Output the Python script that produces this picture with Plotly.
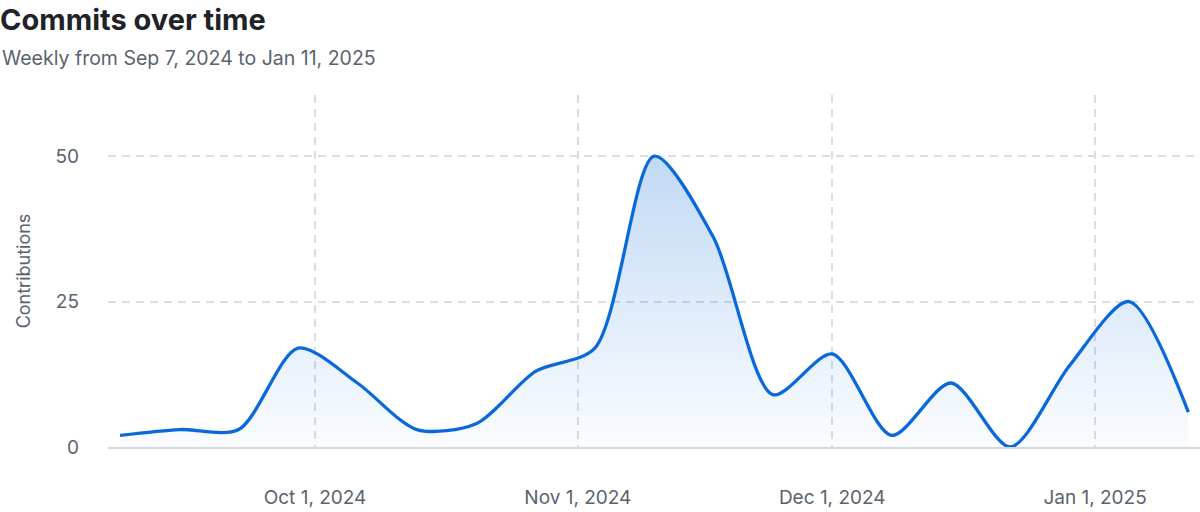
import plotly.graph_objects as go

# weekly buckets (plotted at the week's Sunday)
weeks = [
    "2024-09-08", "2024-09-15", "2024-09-22", "2024-09-29",
    "2024-10-06", "2024-10-13", "2024-10-20", "2024-10-27",
    "2024-11-03", "2024-11-10", "2024-11-17", "2024-11-24",
    "2024-12-01", "2024-12-08", "2024-12-15", "2024-12-22",
    "2024-12-29", "2025-01-05", "2025-01-12",
]
commits = [2, 3, 3, 17, 11, 3, 4, 13, 17, 50, 36, 9, 16, 2, 11, 0, 14, 25, 6]

tick_dates = ["2024-10-01", "2024-11-01", "2024-12-01", "2025-01-01"]
tick_labels = ["Oct 1, 2024", "Nov 1, 2024", "Dec 1, 2024", "Jan 1, 2025"]
y_ticks = [0, 25, 50]

BLUE = "#0969da"
MUTED = "#59636e"
GRID = "#d8dee4"
FONT = "Inter, 'Noto Sans', sans-serif"

fig = go.Figure()
fig.add_trace(
    go.Scatter(
        x=weeks,
        y=commits,
        mode="lines",
        line=dict(color=BLUE, width=3.3, shape="spline", smoothing=0.8),
        fill="tozeroy",
        fillgradient=dict(
            type="vertical",
            colorscale=[[0, "rgba(9,105,218,0.02)"], [1, "rgba(9,105,218,0.25)"]],
        ),
        hoverinfo="skip",
        showlegend=False,
    )
)

fig.update_layout(
    width=1200,
    height=512,
    margin=dict(l=108, r=0, t=95, b=65),
    paper_bgcolor="white",
    plot_bgcolor="white",
    font=dict(family=FONT, color=MUTED, size=19),
    title=dict(
        text="<b>Commits over time</b>",
        font=dict(size=29, color="#1f2328"),
        xref="container", yref="container",
        x=0, xanchor="left",
        y=1 - 20 / 512, yanchor="middle",
        pad=dict(l=0),
    ),
    annotations=[
        dict(
            text="Weekly from Sep 7, 2024 to Jan 11, 2025",
            xref="paper", yref="paper",
            x=-108 / 1092, y=(447 - 58) / 352,
            xanchor="left", yanchor="middle",
            showarrow=False,
            font=dict(size=19.5, color=MUTED),
        )
    ],
)

fig.update_xaxes(
    type="date",
    range=["2024-09-06 14:00", "2025-01-13 09:00"],
    tickvals=tick_dates,
    ticktext=tick_labels,
    showgrid=True,
    gridcolor=GRID,
    gridwidth=1.5,
    griddash="8px,6px",
    showline=True,
    linecolor="#d1d9e0",
    linewidth=2,
    ticks="",
    ticklabelstandoff=32,
    zeroline=False,
    tickfont=dict(size=19, color=MUTED),
)

fig.update_yaxes(
    range=[0, 60.5],
    tickvals=y_ticks,
    showgrid=True,
    gridcolor=GRID,
    gridwidth=1.5,
    griddash="8px,6px",
    zeroline=False,
    showline=False,
    ticks="",
    ticklabelstandoff=28,
    tickfont=dict(size=19, color=MUTED),
    title=dict(text="Contributions", font=dict(size=18, color=MUTED), standoff=20),
)

# drop the browser's default 8px body margin so the figure sits at the page corner
fig.write_html(
    "out.html",
    config={"displayModeBar": False},
    post_script="document.body.style.margin = '0';",
)
